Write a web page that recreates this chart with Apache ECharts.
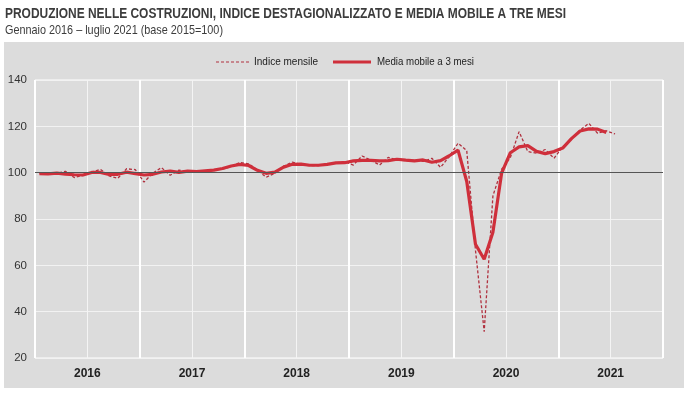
<!DOCTYPE html>
<html>
<head>
<meta charset="utf-8">
<title>Produzione nelle costruzioni</title>
<script src="https://cdn.jsdelivr.net/npm/echarts@6/dist/echarts.min.js"></script>
<style>
  html, body { margin: 0; padding: 0; background: #fff; }
  #chart { width: 700px; height: 396px; }
</style>
</head>
<body>
<div id="chart"></div>
<script>
// anni e mesi dell'asse (gennaio 2016 - dicembre 2021)
var years = ['2016', '2017', '2018', '2019', '2020', '2021']
var monthNames = ['gen', 'feb', 'mar', 'apr', 'mag', 'giu', 'lug', 'ago', 'set', 'ott', 'nov', 'dic']

// indice mensile destagionalizzato (gen 2016 - lug 2021)
var indiceMensile = [
  99.8, 99.2, 99.6, 100.6, 97.9, 98.8, 100.2, 101.4, 98.6, 97.6, 101.7, 101.3,
  95.9, 99.8, 102.2, 98.9, 101.1, 100.3, 100.7, 100.5, 101.3, 101.6, 102.6, 104.4,
  103.8, 101.2, 98.0, 99.8, 102.8, 104.5, 103.6, 103.0, 103.1, 103.6, 104.2, 104.8,
  103.3, 107.2, 105.4, 103.3, 106.6, 105.6, 105.2, 105.3, 104.9, 106.2, 102.3, 107.0,
  112.7, 109.5, 66.5, 31.4, 90.0, 101.5, 106.5, 117.7, 109.1, 108.4, 110.0, 106.2,
  111.2, 114.4, 118.4, 121.3, 117.0, 118.1, 116.7
]

// media mobile a 3 mesi (gen 2016 - giu 2021)
var mediaMobile = [
  99.6, 99.5, 99.8, 99.4, 99.1, 99.0, 100.1, 100.1, 99.2, 99.3, 100.2, 99.6,
  99.0, 99.3, 100.3, 100.7, 100.1, 100.7, 100.5, 100.8, 101.1, 101.8, 102.9, 103.6,
  103.1, 101.0, 99.7, 100.2, 102.4, 103.6, 103.7, 103.2, 103.2, 103.6, 104.2, 104.3,
  105.1, 105.3, 105.3, 105.1, 105.2, 105.8, 105.4, 105.1, 105.5, 104.5, 105.2, 107.3,
  109.7, 96.2, 69.1, 62.6, 74.3, 99.8, 108.6, 111.1, 111.7, 109.2, 108.2, 109.1,
  110.6, 114.7, 118.0, 118.9, 118.8, 117.3
]

var titolo = 'PRODUZIONE NELLE COSTRUZIONI, INDICE DESTAGIONALIZZATO E MEDIA MOBILE A TRE MESI'
var sottotitolo = 'Gennaio 2016 \u2013 luglio 2021 (base 2015=100)'
var legendNames = ['Indice mensile', 'Media mobile a 3 mesi']

var months = []
years.forEach(function(y) {
  monthNames.forEach(function(m) { months.push(m + ' ' + y) })
})

var colDashed = '#b0303e'
var colSolid = '#cf2f3b'

// il font "narrow" non c'e': si stringe il testo in orizzontale
var ctx = document.createElement('canvas').getContext('2d')
function narrowText(text, font, width, x, y, fill) {
  ctx.font = font
  var w = ctx.measureText(text).width
  return {
    type: 'text',
    x: x,
    y: y,
    scaleX: width / w,
    z: 10,
    style: { text: text, font: font, fill: fill, verticalAlign: 'middle' }
  }
}

var chart = echarts.init(document.getElementById('chart'), null, { renderer: 'canvas' })

var option = {
  animation: false,
  backgroundColor: '#fff',
  graphic: [
    // pannello grigio dietro al grafico
    {
      type: 'rect',
      z: -10,
      shape: { x: 4, y: 42, width: 680, height: 346 },
      style: { fill: '#dcdcdc' }
    },
    narrowText(titolo, 'bold 14.5px "Liberation Sans"', 561, 5, 14, '#3c3c3c'),
    narrowText(sottotitolo, '13px "Liberation Sans"', 218, 5, 30, '#3c3c3c'),
    // legenda
    {
      type: 'line',
      shape: { x1: 216, y1: 62, x2: 250, y2: 62 },
      style: { stroke: colDashed, lineWidth: 1.2, lineDash: [3, 2] }
    },
    narrowText(legendNames[0], '11.5px "Liberation Sans"', 64, 254, 62, '#222'),
    {
      type: 'line',
      shape: { x1: 333, y1: 62, x2: 371, y2: 62 },
      style: { stroke: colSolid, lineWidth: 3.2 }
    },
    narrowText(legendNames[1], '11.5px "Liberation Sans"', 97, 377, 62, '#222')
  ],
  grid: {
    left: 35,
    right: 37,
    top: 80,
    bottom: 38,
    show: true,
    borderColor: '#fff',
    borderWidth: 1,
    backgroundColor: 'transparent'
  },
  xAxis: [
    {
      // mesi: linee sottili ogni sei mesi
      type: 'category',
      data: months,
      boundaryGap: true,
      axisLine: { show: false },
      axisTick: { show: false },
      axisLabel: { show: false },
      splitLine: {
        show: true,
        interval: function(index) { return index % 6 === 0 },
        lineStyle: { color: '#f4f4f4', width: 1 }
      }
    },
    {
      // anni: etichette e linee piu' spesse
      type: 'category',
      data: years,
      position: 'bottom',
      boundaryGap: true,
      axisLine: { show: false },
      axisTick: { show: false },
      axisLabel: {
        margin: 10,
        fontFamily: '"Liberation Sans", Arial, sans-serif',
        fontSize: 12,
        fontWeight: 'bold',
        color: '#222'
      },
      splitLine: { show: true, lineStyle: { color: '#fff', width: 2 } }
    }
  ],
  yAxis: {
    type: 'value',
    min: 20,
    max: 140,
    interval: 20,
    axisLine: { show: false },
    axisTick: { show: false },
    axisLabel: {
      margin: 8,
      fontFamily: '"Liberation Sans", Arial, sans-serif',
      fontSize: 11.5,
      color: '#333'
    },
    splitLine: { lineStyle: { color: '#f2f2f2', width: 1 } }
  },
  series: [
    {
      name: legendNames[0],
      type: 'line',
      xAxisIndex: 0,
      data: indiceMensile,
      symbol: 'none',
      z: 3,
      lineStyle: { color: colDashed, width: 1.3, type: [3, 2] },
      markLine: {
        silent: true,
        symbol: 'none',
        label: { show: false },
        lineStyle: { color: '#555', width: 1, type: 'solid' },
        data: [{ yAxis: 100 }]
      }
    },
    {
      name: legendNames[1],
      type: 'line',
      xAxisIndex: 0,
      data: mediaMobile,
      symbol: 'none',
      z: 4,
      lineStyle: { color: colSolid, width: 3.2 }
    }
  ]
}

chart.setOption(option)
</script>
</body>
</html>
